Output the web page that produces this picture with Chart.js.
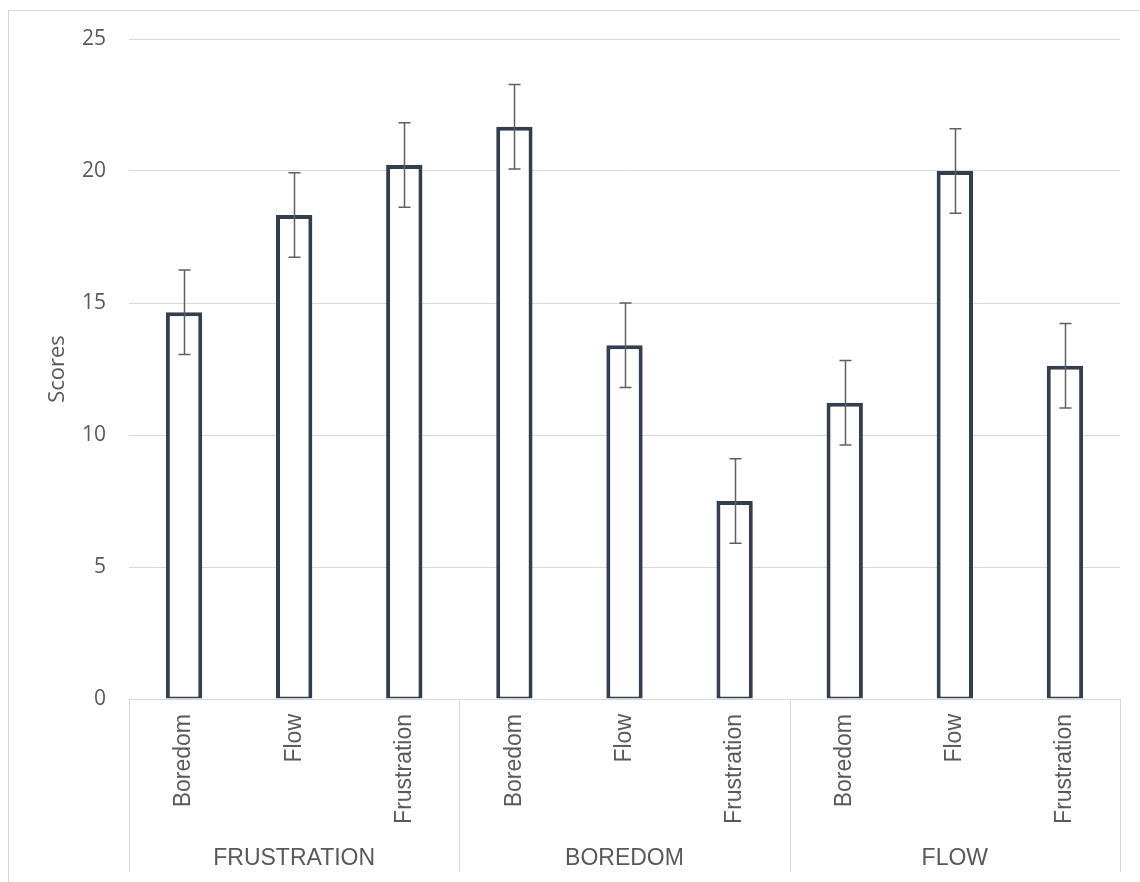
<!DOCTYPE html>
<html>
<head>
<meta charset="utf-8">
<script src="https://cdn.jsdelivr.net/npm/chart.js@4.4.1/dist/chart.umd.min.js"></script>
<style>
    html, body { margin: 0; padding: 0; background: #ffffff; }
    canvas { display: block; }
</style>
</head>
<body>
<canvas id="scoresChart" width="1140" height="882"></canvas>
<script>
// condition groups and the measure shown in each bar
const groupLabels = ['FRUSTRATION', 'BOREDOM', 'FLOW'];
const measureLabels = ['Boredom', 'Flow', 'Frustration'];

// mean scores, in group order
const scoreValues = [14.65, 18.33, 20.23, 21.68, 13.40, 7.50, 11.22, 20.00, 12.62];
// error bar half-lengths
const scoreErrors = [1.6, 1.6, 1.6, 1.6, 1.6, 1.6, 1.6, 1.6, 1.6];

const yTicks = [0, 5, 10, 15, 20, 25];

const textColor = '#595959';
const lineColor = '#d9d9d9';

const categoryLabels = [];
groupLabels.forEach(function() {
    measureLabels.forEach(function(m) { categoryLabels.push(m); });
});

const frameBorder = {
    id: 'frameBorder',
    beforeDraw: function(chart) {
        const ctx = chart.ctx;
        ctx.save();
        ctx.strokeStyle = lineColor;
        ctx.lineWidth = 1;
        ctx.strokeRect(8.5, 10.5, 1300, 1000);
        ctx.restore();
    }
};

const errorBars = {
    id: 'errorBars',
    afterDatasetsDraw: function(chart) {
        const ctx = chart.ctx;
        const yScale = chart.scales.y;
        const meta = chart.getDatasetMeta(0);
        ctx.save();
        ctx.strokeStyle = '#5f5f5f';
        ctx.lineWidth = 1.5;
        meta.data.forEach(function(bar, i) {
            const x = Math.round(bar.x) + 0.5;
            const top = yScale.getPixelForValue(scoreValues[i] + scoreErrors[i]);
            const bottom = yScale.getPixelForValue(scoreValues[i] - scoreErrors[i]);
            ctx.beginPath();
            ctx.moveTo(x, top);
            ctx.lineTo(x, bottom);
            ctx.moveTo(x - 6, top);
            ctx.lineTo(x + 6, top);
            ctx.moveTo(x - 6, bottom);
            ctx.lineTo(x + 6, bottom);
            ctx.stroke();
        });
        ctx.restore();
    }
};

const groupAxis = {
    id: 'groupAxis',
    afterDraw: function(chart) {
        const ctx = chart.ctx;
        const xScale = chart.scales.x;
        const area = chart.chartArea;
        const perGroup = measureLabels.length;
        const step = (area.right - area.left) / categoryLabels.length;
        ctx.save();
        ctx.strokeStyle = lineColor;
        ctx.lineWidth = 1;
        for (let g = 0; g <= groupLabels.length; g++) {
            const x = Math.round(area.left + g * perGroup * step) + 0.5;
            ctx.beginPath();
            ctx.moveTo(x, area.bottom);
            ctx.lineTo(x, 872);
            ctx.stroke();
        }
        ctx.fillStyle = textColor;
        ctx.font = "23px 'Liberation Sans', Arial, sans-serif";
        ctx.textAlign = 'center';
        ctx.textBaseline = 'middle';
        groupLabels.forEach(function(label, g) {
            const first = xScale.getPixelForValue(g * perGroup);
            const last = xScale.getPixelForValue(g * perGroup + perGroup - 1);
            ctx.fillText(label, (first + last) / 2, 859);
        });
        ctx.restore();
    }
};

const ctx = document.getElementById('scoresChart').getContext('2d');

new Chart(ctx, {
    type: 'bar',
    data: {
        labels: categoryLabels,
        datasets: [{
            label: 'Scores',
            data: scoreValues,
            backgroundColor: '#ffffff',
            borderColor: '#333f50',
            borderWidth: { top: 4, left: 4, right: 4, bottom: 2 },
            borderSkipped: false,
            barPercentage: 0.33,
            categoryPercentage: 1
        }]
    },
    options: {
        responsive: false,
        devicePixelRatio: 1,
        animation: false,
        layout: {
            padding: { left: 0, right: 20, top: 39, bottom: 0 }
        },
        plugins: {
            legend: { display: false },
            tooltip: { enabled: false }
        },
        scales: {
            x: {
                grid: { display: false, drawTicks: false },
                border: { display: true, color: lineColor, width: 1 },
                ticks: {
                    autoSkip: false,
                    minRotation: 90,
                    maxRotation: 90,
                    padding: 15,
                    color: textColor,
                    font: { family: "'Liberation Sans', Arial, sans-serif", size: 23 }
                },
                afterFit: function(scale) { scale.height = 183; }
            },
            y: {
                min: 0,
                max: 25,
                afterBuildTicks: function(scale) {
                    scale.ticks = yTicks.map(function(v) { return { value: v }; });
                },
                grid: { color: lineColor, lineWidth: 1, drawTicks: false },
                border: { display: false },
                ticks: {
                    padding: 23,
                    color: textColor,
                    font: { family: "'Open Sans', sans-serif", size: 21 }
                },
                title: {
                    display: true,
                    text: 'Scores',
                    color: textColor,
                    font: { family: "'Open Sans', sans-serif", size: 22 },
                    padding: { top: 45, bottom: 0 }
                },
                afterFit: function(scale) { scale.width = 129; }
            }
        }
    },
    plugins: [frameBorder, errorBars, groupAxis]
});
</script>
</body>
</html>
